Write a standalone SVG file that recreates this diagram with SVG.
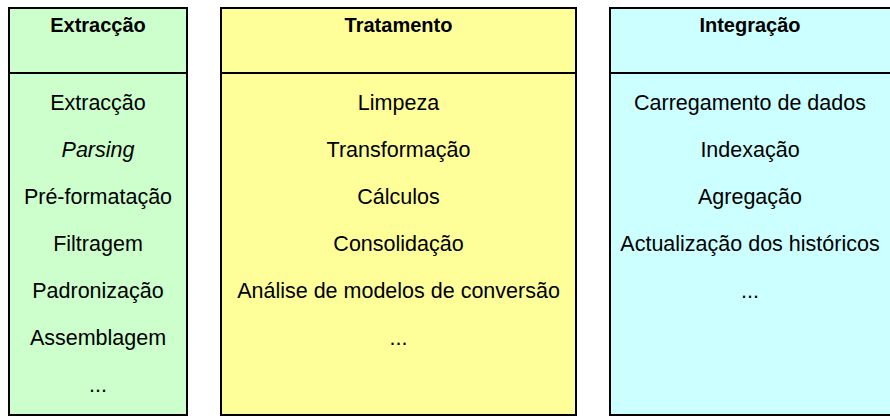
<svg xmlns="http://www.w3.org/2000/svg" width="890" height="416" viewBox="0 0 890 416">
<style>
.box{stroke:#000;stroke-width:2}
.div{stroke:#000;stroke-width:2}
.h{font-family:"Liberation Sans",Arial,sans-serif;font-size:20px;font-weight:bold;text-anchor:middle;fill:#000}
.t{font-family:"Liberation Sans",Arial,sans-serif;font-size:21.5px;text-anchor:middle;fill:#000}
</style>
<rect width="890" height="416" fill="#fff"/>
<g id="extraccao">
<rect class="box" x="9" y="8" width="178" height="407" fill="#CCFFCC"/>
<line class="div" x1="9" y1="73" x2="187" y2="73"/>
<text class="h" x="98" y="32">Extracção</text>
<text class="t" x="98" y="110">Extracção</text>
<text class="t" x="98" y="157" font-style="italic">Parsing</text>
<text class="t" x="98" y="204">Pré-formatação</text>
<text class="t" x="98" y="251">Filtragem</text>
<text class="t" x="98" y="298">Padronização</text>
<text class="t" x="98" y="345">Assemblagem</text>
<text class="t" x="98" y="392">...</text>
</g>
<g id="tratamento">
<rect class="box" x="221" y="8" width="355" height="407" fill="#FFFF99"/>
<line class="div" x1="221" y1="73" x2="576" y2="73"/>
<text class="h" x="398.5" y="32">Tratamento</text>
<text class="t" x="398.5" y="110">Limpeza</text>
<text class="t" x="398.5" y="157">Transformação</text>
<text class="t" x="398.5" y="204">Cálculos</text>
<text class="t" x="398.5" y="251">Consolidação</text>
<text class="t" x="398.5" y="298">Análise de modelos de conversão</text>
<text class="t" x="398.5" y="345">...</text>
</g>
<g id="integracao">
<rect class="box" x="610" y="8" width="282" height="407" fill="#CCFFFF"/>
<line class="div" x1="610" y1="73" x2="892" y2="73"/>
<text class="h" x="750" y="32">Integração</text>
<text class="t" x="750" y="110">Carregamento de dados</text>
<text class="t" x="750" y="157">Indexação</text>
<text class="t" x="750" y="204">Agregação</text>
<text class="t" x="750" y="251">Actualização dos históricos</text>
<text class="t" x="750" y="298">...</text>
</g>
<g id="connectors"/>
</svg>
